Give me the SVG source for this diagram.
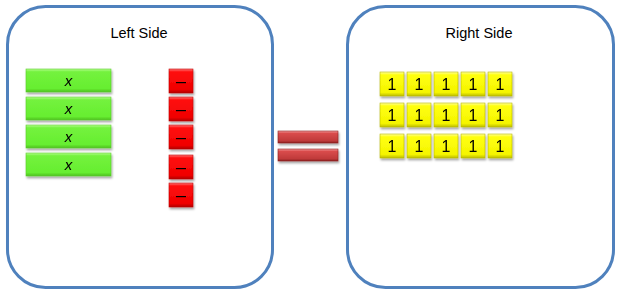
<svg xmlns="http://www.w3.org/2000/svg" width="622" height="294" viewBox="0 0 622 294">
<style>
.side{fill:#fff;stroke:#4F81BD;stroke-width:3}
.title{font-family:"Liberation Sans",Arial,sans-serif;font-size:14.5px;fill:#000;text-anchor:middle}
.lbl{font-family:"Liberation Sans",Arial,sans-serif;fill:#000;text-anchor:middle}
.g{fill:url(#gg);stroke:#5ACC2A;stroke-width:0.6}
.r{fill:url(#gr);stroke:#C00000;stroke-width:0.6}
.y{fill:url(#gy);stroke:#B8B800;stroke-width:0.6}
.e{fill:url(#ge);stroke:#8B2323;stroke-width:0.6}
.tile{filter:url(#sh)}
</style>
<defs>
<filter id="sh" x="-20%" y="-20%" width="140%" height="160%">
<feDropShadow dx="1" dy="2" stdDeviation="1" flood-color="#000" flood-opacity="0.35"/>
</filter>
<linearGradient id="gg" x1="0" y1="0" x2="0" y2="1">
<stop offset="0" stop-color="#B6FF8F"/><stop offset="0.12" stop-color="#74F23E"/><stop offset="0.85" stop-color="#66EE30"/><stop offset="1" stop-color="#4FBF22"/>
</linearGradient>
<linearGradient id="gr" x1="0" y1="0" x2="0" y2="1">
<stop offset="0" stop-color="#FF7A7A"/><stop offset="0.12" stop-color="#FF1010"/><stop offset="0.85" stop-color="#F00000"/><stop offset="1" stop-color="#B00000"/>
</linearGradient>
<linearGradient id="gy" x1="0" y1="0" x2="0" y2="1">
<stop offset="0" stop-color="#FFFFA0"/><stop offset="0.12" stop-color="#FFFF10"/><stop offset="0.85" stop-color="#F5F500"/><stop offset="1" stop-color="#BDBD00"/>
</linearGradient>
<linearGradient id="ge" x1="0" y1="0" x2="0" y2="1">
<stop offset="0" stop-color="#F49A9A"/><stop offset="0.2" stop-color="#D94C4C"/><stop offset="0.8" stop-color="#C03A3A"/><stop offset="1" stop-color="#8F2020"/>
</linearGradient>
</defs>

<g id="left-side">
<rect class="side" x="7.5" y="6.5" width="265" height="281" rx="38" ry="38"/>
<text class="title" x="139" y="38">Left Side</text>
</g>
<g id="right-side">
<rect class="side" x="347.5" y="6.5" width="266" height="281" rx="38" ry="38"/>
<text class="title" x="479" y="38">Right Side</text>
</g>

<g id="x-tiles">
<g id="x1" class="tile"><rect class="g" x="26" y="69" width="85" height="23"/><text class="lbl" x="68.5" y="86" font-size="15" font-style="italic">x</text></g>
<g id="x2" class="tile"><rect class="g" x="26" y="97" width="85" height="23"/><text class="lbl" x="68.5" y="114" font-size="15" font-style="italic">x</text></g>
<g id="x3" class="tile"><rect class="g" x="26" y="125" width="85" height="23"/><text class="lbl" x="68.5" y="142" font-size="15" font-style="italic">x</text></g>
<g id="x4" class="tile"><rect class="g" x="26" y="153" width="85" height="23"/><text class="lbl" x="68.5" y="170" font-size="15" font-style="italic">x</text></g>
</g>

<g id="neg-tiles">
<g id="n1" class="tile"><rect class="r" x="169" y="69" width="24" height="24"/><text class="lbl" x="181" y="87" font-size="18">–</text></g>
<g id="n2" class="tile"><rect class="r" x="169" y="97" width="24" height="24"/><text class="lbl" x="181" y="115" font-size="18">–</text></g>
<g id="n3" class="tile"><rect class="r" x="169" y="125" width="24" height="24"/><text class="lbl" x="181" y="143" font-size="18">–</text></g>
<g id="n4" class="tile"><rect class="r" x="169" y="155" width="24" height="24"/><text class="lbl" x="181" y="173" font-size="18">–</text></g>
<g id="n5" class="tile"><rect class="r" x="169" y="183" width="24" height="24"/><text class="lbl" x="181" y="201" font-size="18">–</text></g>
</g>

<g id="equals" class="tile">
<rect class="e" x="278" y="131" width="60" height="12"/>
<rect class="e" x="278" y="149" width="60" height="12"/>
</g>

<g id="one-tiles" font-size="16">
<g class="tile"><rect class="y" x="380" y="72" width="24" height="24"/><text class="lbl" x="392" y="90">1</text></g>
<g class="tile"><rect class="y" x="407" y="72" width="24" height="24"/><text class="lbl" x="419" y="90">1</text></g>
<g class="tile"><rect class="y" x="434" y="72" width="24" height="24"/><text class="lbl" x="446" y="90">1</text></g>
<g class="tile"><rect class="y" x="461" y="72" width="24" height="24"/><text class="lbl" x="473" y="90">1</text></g>
<g class="tile"><rect class="y" x="488" y="72" width="24" height="24"/><text class="lbl" x="500" y="90">1</text></g>
<g class="tile"><rect class="y" x="380" y="103" width="24" height="24"/><text class="lbl" x="392" y="121">1</text></g>
<g class="tile"><rect class="y" x="407" y="103" width="24" height="24"/><text class="lbl" x="419" y="121">1</text></g>
<g class="tile"><rect class="y" x="434" y="103" width="24" height="24"/><text class="lbl" x="446" y="121">1</text></g>
<g class="tile"><rect class="y" x="461" y="103" width="24" height="24"/><text class="lbl" x="473" y="121">1</text></g>
<g class="tile"><rect class="y" x="488" y="103" width="24" height="24"/><text class="lbl" x="500" y="121">1</text></g>
<g class="tile"><rect class="y" x="380" y="134" width="24" height="24"/><text class="lbl" x="392" y="152">1</text></g>
<g class="tile"><rect class="y" x="407" y="134" width="24" height="24"/><text class="lbl" x="419" y="152">1</text></g>
<g class="tile"><rect class="y" x="434" y="134" width="24" height="24"/><text class="lbl" x="446" y="152">1</text></g>
<g class="tile"><rect class="y" x="461" y="134" width="24" height="24"/><text class="lbl" x="473" y="152">1</text></g>
<g class="tile"><rect class="y" x="488" y="134" width="24" height="24"/><text class="lbl" x="500" y="152">1</text></g>
</g>
</svg>
